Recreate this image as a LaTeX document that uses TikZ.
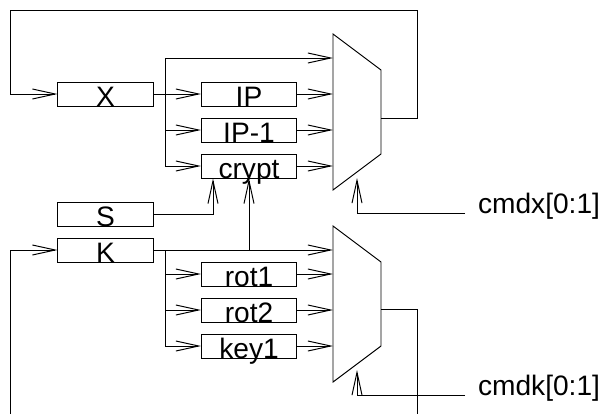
\documentclass[tikz,border=0pt]{standalone}
\usepackage{fontspec}
\setmainfont{Liberation Sans}
\usetikzlibrary{arrows.meta, positioning, calc}

\begin{document}
\begin{tikzpicture}[
  x=0.025cm, y=-0.025cm,
  reg/.style={draw, minimum width=2.375cm, inner xsep=0pt, inner ysep=0pt,
              text height=0.6cm, text depth=0pt, font=\fontsize{20}{24}\selectfont,
              line width=0.7pt},
  wire/.style={line width=0.7pt},
  arrow/.style={wire, -{Straight Barb[length=0.57cm, width=0.25cm]}},
  sig/.style={font=\fontsize{20}{24}\selectfont, anchor=base west,
              inner xsep=0.32cm, inner ysep=0pt}
]
  \useasboundingbox (0,0) rectangle (603,414);

  % Registers
  \node[reg] (x) at (105.5,94) {X};
  \node[reg] (s) at (105.5,214) {S};
  \node[reg] (k) at (105.5,250) {K};

  % X path
  \node[reg] (ip) at (249,94) {IP};
  \node[reg] (ipm) at (249,130) {IP-1};
  \node[reg] (crypt) at (249,166) {crypt};

  % K path
  \node[reg] (rot1) at (249,274) {rot1};
  \node[reg] (rot2) at (249,310) {rot2};
  \node[reg] (key1) at (249,346) {key1};

  % Multiplexers
  \draw[wire] (333,34) -- (381,70) -- (381,154) -- (333,190) -- cycle;
  \draw[wire] (333,226) -- (381,262) -- (381,346) -- (333,382) -- cycle;
  \coordinate (mxa) at (333,58);
  \coordinate (mxb) at (333,94);
  \coordinate (mxc) at (333,130);
  \coordinate (mxd) at (333,166);
  \coordinate (mxo) at (381,118);
  \coordinate (mxs) at (357,178);
  \coordinate (mka) at (333,250);
  \coordinate (mkb) at (333,274);
  \coordinate (mkc) at (333,310);
  \coordinate (mkd) at (333,346);
  \coordinate (mko) at (381,309);
  \coordinate (mks) at (357,370);

  % Branch points
  \coordinate (xbr) at (165,94);
  \coordinate (kbr) at (165,250);
  \coordinate (kup) at (249,250);
  \coordinate (kin) at (10,414);
  \coordinate (kout) at (417,414);

  % Select inputs
  \node[sig] (cmdx) at (465,213) {cmdx[0:1]};
  \node[sig] (cmdk) at (465,395) {cmdk[0:1]};

  % X loop
  \draw[arrow] (mxo) -| (417,10) -| (10,94) -- (x.west);
  \draw[arrow] (x.east) -- (ip.west);
  \draw[arrow] (xbr) |- (mxa);
  \draw[arrow] (xbr) |- (ipm.west);
  \draw[arrow] (xbr) |- (crypt.west);
  \draw[arrow] (ip.east) -- (mxb);
  \draw[arrow] (ipm.east) -- (mxc);
  \draw[arrow] (crypt.east) -- (mxd);
  \draw[arrow] (s.east) -| ([xshift=-0.9cm]crypt.south);

  % K loop
  \draw[arrow] (kin) |- (k.west);
  \draw[arrow] (k.east) -- (mka);
  \draw[arrow] (kup) -- (crypt.south);
  \draw[arrow] (kbr) |- (rot1.west);
  \draw[arrow] (kbr) |- (rot2.west);
  \draw[arrow] (kbr) |- (key1.west);
  \draw[arrow] (rot1.east) -- (mkb);
  \draw[arrow] (rot2.east) -- (mkc);
  \draw[arrow] (key1.east) -- (mkd);
  \draw[wire] (mko) -| (kout);

  % Select lines
  \draw[arrow] (cmdx.base west) -| (mxs);
  \draw[arrow] (cmdk.base west) -| (mks);
\end{tikzpicture}
\end{document}
